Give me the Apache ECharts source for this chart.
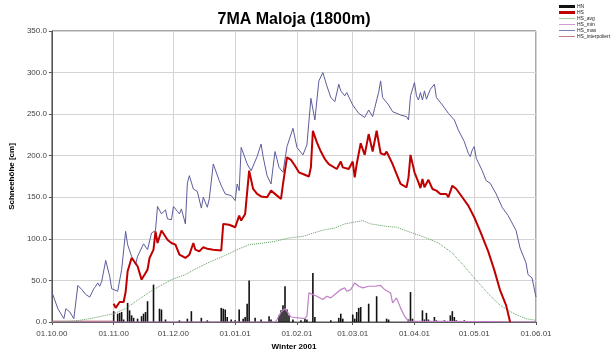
<!DOCTYPE html>
<html><head><meta charset="utf-8">
<script src="https://cdn.jsdelivr.net/npm/echarts@6/dist/echarts.min.js"></script>
<style>html,body{margin:0;padding:0;background:#fff}#c{width:616px;height:356px}</style>
</head><body><div id="c"></div>
<script>
// Days from 01.10.00 to 01.06.01 (index 0..243)
const startDate = Date.UTC(2000, 9, 1);
const dayCount = 244;
const monthStarts = [0, 31, 61, 92, 123, 151, 182, 212, 243];
const monthLabels = ['01.10.00','01.11.00','01.12.00','01.01.01','01.02.01','01.03.01','01.04.01','01.05.01','01.06.01'];
const yTicks = [0, 50, 100, 150, 200, 250, 300, 350];

// HN (new snow, cm) [dayIndex, value]
const hn = [[31,13],[33,10],[34,11],[35,12],[36,3],[38,23],[39,14],[40,8],[41,5],[43,4],[45,7],[46,10],[47,12],[48,25],[51,45],[54,16],[55,15],[57,3],[64,2],[68,4],[70,13],[75,5],[78,2],[85,17],[86,16],[87,15],[88,6],[90,3],[92,2],[94,15],[96,4],[97,6],[98,22],[99,50],[102,5],[105,3],[109,7],[110,3],[114,8],[115,14],[116,20],[117,43],[118,15],[119,8],[121,3],[125,2],[127,4],[128,3],[131,59],[132,6],[140,2],[144,5],[145,10],[146,4],[151,9],[152,4],[153,12],[154,17],[155,18],[159,22],[163,31],[168,4],[169,3],[179,3],[180,36],[181,4],[186,14],[187,3],[188,11],[189,3],[192,6],[193,2],[197,2],[200,8],[201,13],[202,6],[203,2],[207,2]];

// HS (snow depth)
const hs = [[31,22],[32,17],[34,24],[35,26],[36,24],[37,36],[38,61],[40,77],[41,74],[43,67],[45,51],[47,59],[48,63],[49,77],[51,87],[52,109],[53,95],[55,110],[58,99],[60,95],[62,93],[64,81],[67,77],[69,81],[71,95],[72,87],[74,85],[76,90],[78,88],[81,87],[85,86],[86,118],[89,117],[92,114],[94,128],[95,122],[97,130],[99,182],[101,160],[103,154],[105,151],[108,150],[110,158],[113,152],[115,148],[116,166],[118,198],[120,195],[122,188],[124,180],[126,178],[129,175],[130,186],[131,230],[133,216],[135,205],[137,196],[139,190],[143,184],[145,193],[146,186],[149,184],[151,193],[152,174],[153,190],[155,215],[157,201],[159,226],[161,205],[163,230],[165,203],[167,201],[168,205],[171,190],[175,166],[178,162],[179,174],[180,201],[182,180],[184,168],[185,161],[186,172],[187,162],[189,171],[191,160],[193,158],[195,154],[198,154],[199,150],[201,164],[203,160],[206,150],[209,140],[212,126],[215,109],[219,85],[222,63],[225,38],[228,20],[230,0]];

// HS_avg
const hsAvg = [[0,0],[11,1],[19,4],[27,8],[31,10],[37,16],[44,28],[49,36],[54,43],[60,51],[67,57],[73,65],[80,73],[86,79],[93,87],[99,93],[106,95],[112,97],[119,101],[126,103],[134,109],[137,111],[142,113],[147,118],[156,122],[160,118],[168,115],[173,114],[181,107],[188,101],[194,95],[201,83],[207,67],[212,53],[219,34],[225,20],[232,10],[238,4],[243,2]];

// HS_min
const hsMin = [[0,0],[112,0],[113,3],[115,12],[117,16],[118,14],[120,6],[121,4],[127,4],[128,7],[129,35],[130,37],[133,31],[136,27],[138,31],[140,29],[142,33],[143,35],[145,39],[147,41],[148,37],[149,39],[150,39],[152,47],[154,43],[156,41],[159,43],[162,43],[165,44],[167,39],[170,35],[171,23],[173,29],[175,17],[177,7],[179,1],[180,0],[243,0]];

// HS_max
const hsMax = [[0,36],[3,16],[4,12],[6,4],[7,16],[9,12],[11,4],[13,44],[15,39],[17,33],[19,30],[21,40],[22,43],[23,47],[24,43],[25,49],[27,74],[29,55],[30,40],[33,37],[35,63],[37,109],[38,93],[40,79],[42,69],[43,79],[46,94],[48,87],[50,107],[52,110],[53,139],[55,130],[57,135],[58,124],[60,123],[61,139],[63,133],[64,130],[65,136],[67,118],[68,167],[69,176],[71,160],[73,157],[75,137],[76,150],[78,138],[79,148],[81,190],[84,170],[85,164],[87,154],[90,152],[92,146],[93,166],[94,158],[95,210],[97,197],[98,190],[100,182],[103,199],[105,214],[106,199],[108,176],[110,166],[111,186],[112,205],[114,186],[116,180],[118,211],[121,233],[123,210],[126,201],[128,213],[130,269],[132,243],[134,290],[136,300],[138,284],[140,270],[142,265],[144,286],[145,278],[147,272],[148,276],[151,261],[154,251],[157,246],[158,247],[159,255],[161,247],[162,257],[164,276],[165,290],[166,270],[169,261],[171,253],[175,249],[178,247],[179,243],[180,272],[182,288],[183,272],[184,267],[185,276],[186,267],[187,278],[188,268],[190,280],[192,286],[193,270],[196,261],[199,251],[202,243],[204,231],[207,217],[209,203],[210,199],[211,207],[212,211],[213,197],[216,182],[218,170],[220,167],[223,154],[226,138],[229,128],[230,127],[233,110],[235,89],[238,71],[239,57],[241,53],[243,30]];

// HS_interpoliert
const hsInterp = [[0,1],[17,1],[18,2],[19,1],[31,1]];

const pad = n => (n < 10 ? '0' : '') + n;
const categories = [];
for (let i = 0; i < dayCount; i++) {
  const d = new Date(startDate + i * 86400000);
  categories.push(pad(d.getUTCDate()) + '.' + pad(d.getUTCMonth() + 1) + '.' + String(d.getUTCFullYear()).slice(2));
}
const isMonth = (idx) => monthStarts.indexOf(idx) >= 0;

const chart = echarts.init(document.getElementById('c'), null, {renderer: 'canvas'});
const font = 'Liberation Sans, Arial, sans-serif';
const lineIcon = 'path://M0,0 L20,0 L20,1 L0,1 Z';
chart.setOption({
  animation: false,
  backgroundColor: '#fff',
  textStyle: {fontFamily: font},
  title: {
    text: '7MA Maloja (1800m)', left: 289, top: 7, textAlign: 'center',
    textStyle: {fontSize: 16, fontWeight: 'bold', color: '#000', fontFamily: font}
  },
  legend: {
    orient: 'vertical', left: 554, top: -1, itemWidth: 16, itemHeight: 3, itemGap: 1,
    textStyle: {fontSize: 5, color: '#222', padding: [0,0,0,-3], lineHeight: 5},
    data: [
      {name: 'HN', icon: 'rect'},
      {name: 'HS', icon: 'rect'},
      {name: 'HS_avg', icon: lineIcon},
      {name: 'HS_min', icon: lineIcon},
      {name: 'HS_max', icon: lineIcon},
      {name: 'HS_interpoliert', icon: lineIcon}
    ]
  },
  grid: {left: 41, right: 80, top: 31, bottom: 30, show: true, borderColor: '#555', borderWidth: 1},
  xAxis: {
    type: 'category', data: categories, boundaryGap: false,
    name: 'Winter 2001', nameLocation: 'middle', nameGap: 21,
    nameTextStyle: {fontSize: 8, fontWeight: 'bold', color: '#000'},
    axisLine: {lineStyle: {color: '#555'}},
    axisTick: {show: true, interval: (i) => isMonth(i), length: 3, lineStyle: {color: '#555'}},
    axisLabel: {interval: (i) => isMonth(i), fontSize: 8, color: '#444', margin: 8,
      formatter: (v, i) => monthLabels[monthStarts.indexOf(i)] || v},
    splitLine: {show: true, interval: (i) => isMonth(i), lineStyle: {color: '#d4d4d4', width: 1}}
  },
  yAxis: {
    type: 'value', min: 0, max: 350, interval: 50,
    name: 'Schneehöhe [cm]', nameLocation: 'middle', nameGap: 29,
    nameTextStyle: {fontSize: 8, fontWeight: 'bold', color: '#000'},
    axisLine: {show: true, lineStyle: {color: '#555'}},
    axisTick: {show: true, length: 3, lineStyle: {color: '#555'}},
    axisLabel: {fontSize: 8, color: '#444', margin: 5, formatter: v => (yTicks.indexOf(v) >= 0 ? v.toFixed(1) : '')},
    splitLine: {show: true, lineStyle: {color: '#d4d4d4', width: 1}}
  },
  series: [
    {name: 'HN', type: 'bar', data: hn, barWidth: 1.6, itemStyle: {color: '#111'}, z: 1},
    {name: 'HS', type: 'line', data: hs, symbol: 'none', lineStyle: {color: '#c00000', width: 2}, itemStyle: {color: '#c00000'}, z: 6},
    {name: 'HS_avg', type: 'line', data: hsAvg, symbol: 'none', lineStyle: {color: '#5f9a5f', width: 1, type: 'dotted'}, itemStyle: {color: '#8cc08c'}, z: 3},
    {name: 'HS_min', type: 'line', data: hsMin, symbol: 'none', lineStyle: {color: '#c080c8', width: 1.2}, itemStyle: {color: '#c080c8'}, z: 4},
    {name: 'HS_max', type: 'line', data: hsMax, symbol: 'none', lineStyle: {color: '#5c5c9c', width: 1}, itemStyle: {color: '#5c5c9c'}, z: 5},
    {name: 'HS_interpoliert', type: 'line', data: hsInterp, symbol: 'none', lineStyle: {color: '#b06060', width: 1}, itemStyle: {color: '#b06060'}, z: 2}
  ]
});
</script></body></html>
